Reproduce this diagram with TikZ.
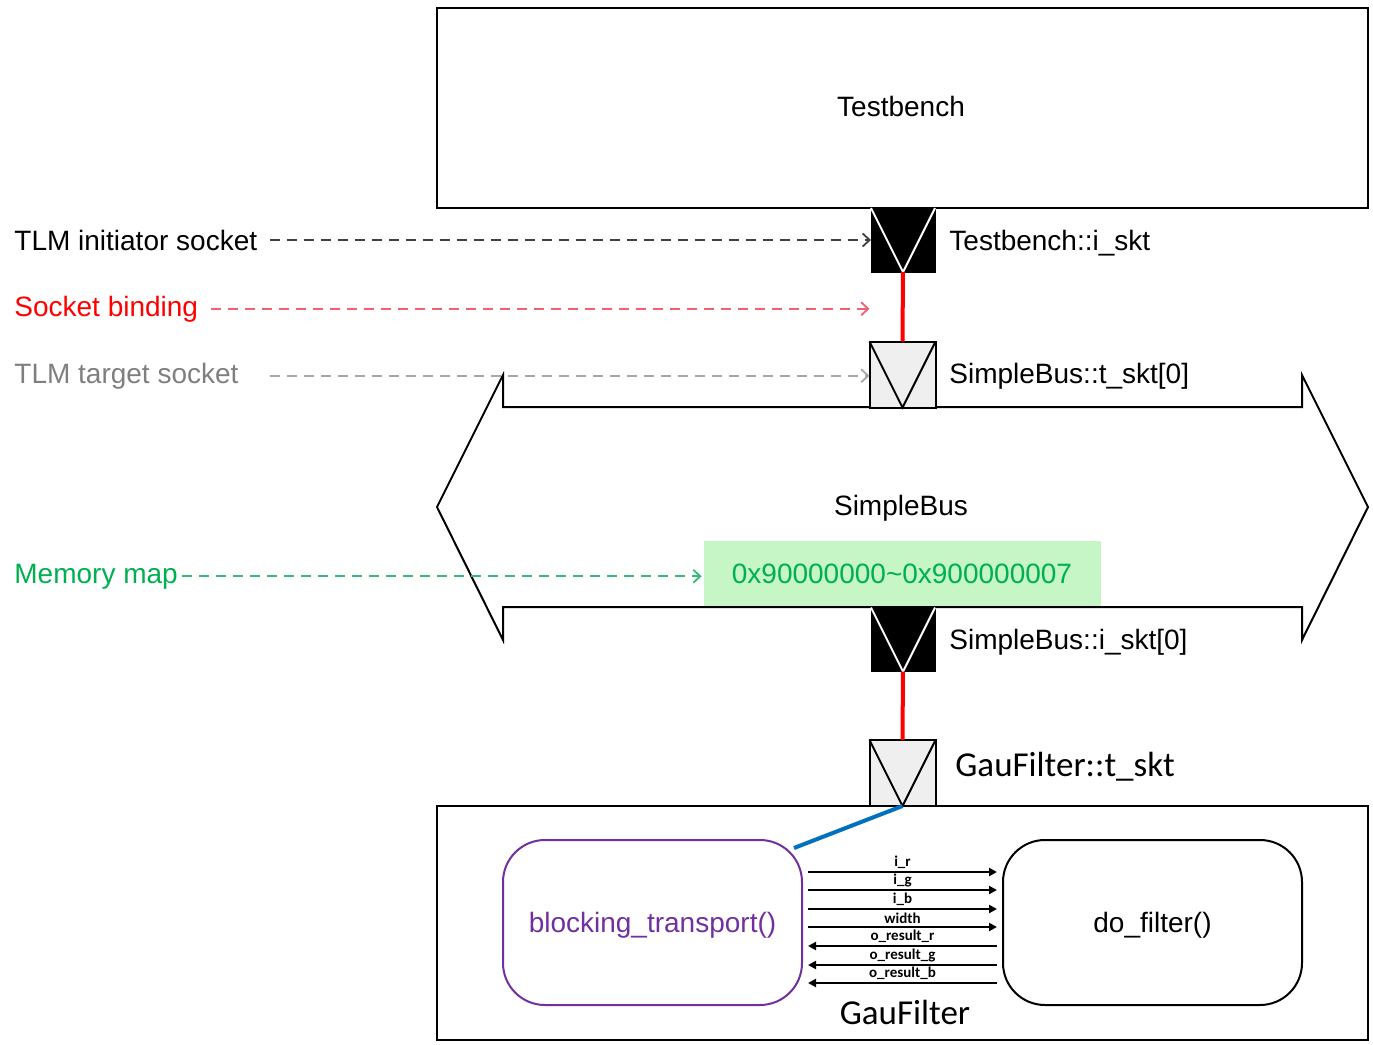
\documentclass[tikz,border=0pt]{standalone}
\usepackage{fontspec}
\setmainfont{Liberation Sans}
\newfontfamily\calib{Carlito}
\usetikzlibrary{arrows.meta,calc}
\definecolor{myred}{HTML}{FF0000}
\definecolor{redd}{HTML}{F06070}
\definecolor{grayt}{HTML}{7F7F7F}
\definecolor{grayd}{HTML}{A6A6A6}
\definecolor{greent}{HTML}{00B050}
\definecolor{greend}{HTML}{33BB77}
\definecolor{memfill}{HTML}{C6F5C6}
\definecolor{purp}{HTML}{7030A0}
\definecolor{bluel}{HTML}{0070C0}
\definecolor{sockfill}{HTML}{EFEFEF}
\begin{document}
\begin{tikzpicture}[x=0.5pt,y=-0.5pt,
  ar/.style={font=\fontsize{14}{17}\selectfont, inner sep=0pt},
  cb/.style={font=\calib\fontsize{17.5}{21}\selectfont, inner sep=0pt},
  sm/.style={font=\calib\bfseries\fontsize{7.5}{9}\selectfont, inner sep=1pt},
  box/.style={draw, line width=1pt, inner sep=0, outer sep=0},
  isock/.style={fill=black, draw=black, line width=0.5pt, minimum width=32pt, minimum height=32pt, inner sep=0, outer sep=0},
  tsock/.style={fill=sockfill, draw=black, line width=1pt, minimum width=33pt, minimum height=33pt, inner sep=0, outer sep=0},
  dsh/.style={dash pattern=on 5pt off 3.5pt, line width=0.9pt, -{Straight Barb[length=3.5pt,width=6.5pt]}},
  bind/.style={myred, line width=2pt},
  sig/.style={line width=1.4pt, -{Triangle[length=4pt,width=4pt]}},
  proc/.style={draw, line width=1pt, rounded corners=21pt, minimum width=149.5pt, minimum height=82.5pt, inner sep=0, text depth=0pt, font=\fontsize{14}{17}\selectfont}
]
\useasboundingbox (0,0) rectangle (1373,1045);

% Testbench
\node[box, minimum width=465.5pt, minimum height=100pt] (tb) at (902.5,108) {};
\node[ar, anchor=base] (tbl) at (901,116) {Testbench};

% SimpleBus shape
\draw[line width=1pt, line join=miter] (503,407) -- (503,375) -- (437,507) -- (503,640) -- (503,607) -- (1302,607) -- (1302,640) -- (1368,507) -- (1302,375) -- (1302,407) -- cycle;
\node[ar, anchor=base] (sbl) at (901,515) {SimpleBus};
\node[fill=memfill, minimum width=198.5pt, minimum height=32.5pt, inner sep=0] (mm) at (902.5,573.5) {};
\node[ar, greent, anchor=base] (mmt) at (902,583) {0x90000000\textasciitilde 0x900000007};

% GauFilter box
\node[box, minimum width=465.5pt, minimum height=117pt] (gf) at (902.5,923) {};
\node[cb, anchor=base] (gfl) at (905,1024) {GauFilter};

% sockets
\node[isock] (tbs) at (903,240) {};
\draw[white, line width=1pt] (tbs.north west) -- (tbs.south) -- (tbs.north east);
\node[tsock] (sbt) at (902.5,374.5) {};
\draw[line width=1pt] (sbt.north west) -- (sbt.south) -- (sbt.north east);
\draw[bind] (tbs.south) -- (sbt.north);

\node[isock] (sbi) at (903,639.5) {};
\draw[white, line width=1pt] (sbi.north west) -- (sbi.south) -- (sbi.north east);
\node[tsock] (gft) at (902.5,773) {};
\draw[line width=1pt] (gft.north west) -- (gft.south) -- (gft.north east);
\draw[bind] (sbi.south) -- (gft.north);

% socket labels
\node[ar, anchor=base west] (tbsl) at (949,250) {Testbench::i\_skt};
\node[ar, anchor=base west] (sbtl) at (949,383) {SimpleBus::t\_skt[0]};
\node[ar, anchor=base west] (sbil) at (949,649) {SimpleBus::i\_skt[0]};
\node[cb, anchor=base west] (gftl) at (955,776) {GauFilter::t\_skt};

% processes
\node[proc, draw=purp, text=purp] (bt) at (652.5,922.5) {blocking\_transport()};
\node[proc] (df) at (1152.5,922.5) {do\_filter()};
\draw[bluel, line width=2pt] (gft.south) -- ($(bt.north east)+(-9,9)$);

\foreach \yy/\lab [count=\i] in {872/i\_r,890/i\_g,909/i\_b,927/width} {
  \coordinate (r\i) at (0,\yy);
  \draw[sig, shorten <=2.5pt, shorten >=2.5pt] (bt.east |- r\i) -- (df.west |- r\i) node[sm, midway, above] {\lab};
}
\foreach \yy/\lab [count=\i] in {946/o\_result\_r,965/o\_result\_g,983/o\_result\_b} {
  \coordinate (q\i) at (0,\yy);
  \draw[sig, shorten <=2.5pt, shorten >=2.5pt] (df.west |- q\i) -- (bt.east |- q\i) node[sm, midway, above] {\lab};
}

% legend labels
\node[ar, anchor=base west] (l1) at (14,250) {TLM initiator socket};
\draw[dsh, black!75] ([xshift=6pt]l1.east) -- (l1.east -| tbs.west);
\node[ar, anchor=base west, text=myred] (l2) at (14,316) {Socket binding};
\draw[dsh, redd] ([xshift=6.5pt]l2.east) -- (l2.east -| sbt.west);
\node[ar, anchor=base west, text=grayt] (l3) at (14,383) {TLM target socket};
\draw[dsh, grayd] ([xshift=15.5pt]l3.east) -- (l3.east -| sbt.west);
\node[ar, anchor=base west, text=greent] (l4) at (14,583) {Memory map};
\draw[dsh, greend] ([xshift=2pt]l4.east) -- ([xshift=-1pt]l4.east -| mm.west);
\end{tikzpicture}
\end{document}
